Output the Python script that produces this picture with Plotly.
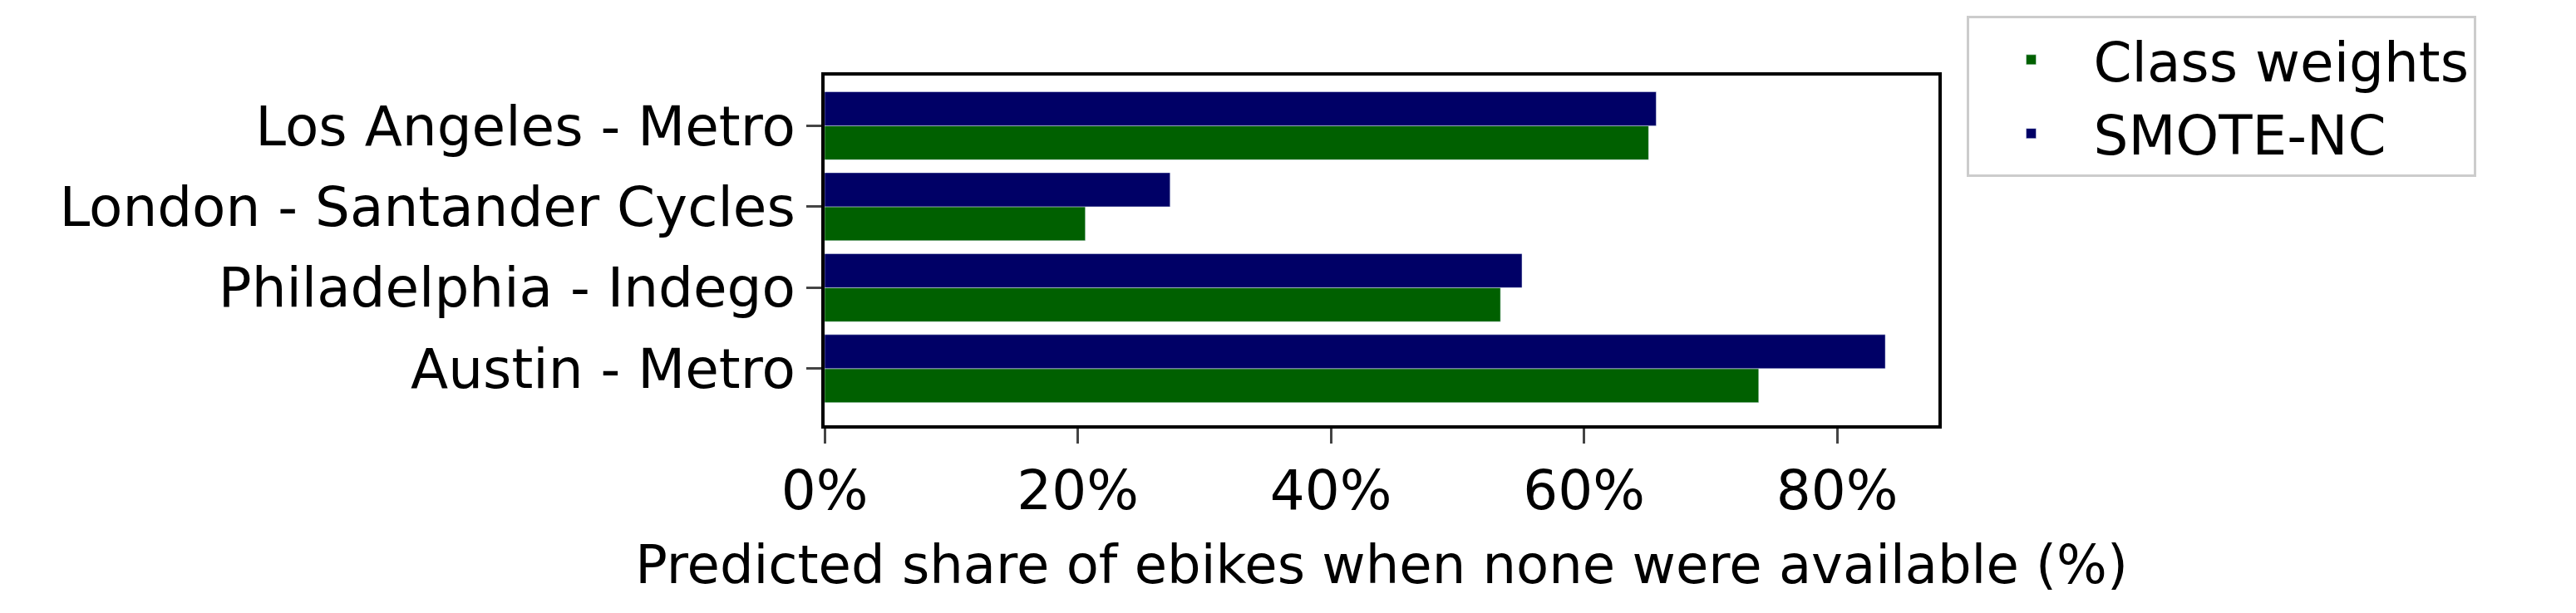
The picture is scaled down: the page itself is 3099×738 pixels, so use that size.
import plotly.graph_objects as go

cities = ["Austin - Metro", "Philadelphia - Indego", "London - Santander Cycles", "Los Angeles - Metro"]
class_weights = [73.8, 53.4, 20.6, 65.1]
smote_nc = [83.8, 55.1, 27.3, 65.7]
xticks = [0, 20, 40, 60, 80]
xticklabels = ["0%", "20%", "40%", "60%", "80%"]

fig = go.Figure()
fig.add_bar(y=cities, x=class_weights, orientation="h", name="Class weights", marker_color="#006000")
fig.add_bar(y=cities, x=smote_nc, orientation="h", name="SMOTE-NC", marker_color="#000066")

font = dict(family="DejaVu Sans", size=66, color="black")
fig.update_layout(
    width=3099, height=738, barmode="group", bargap=0.16, bargroupgap=0,
    plot_bgcolor="white", paper_bgcolor="white", font=font,
    margin=dict(l=984, r=3099 - 2324, t=79, b=738 - 504),
    legend=dict(x=1.025, y=1.17, xanchor="left", yanchor="top", bordercolor="#cccccc", borderwidth=3,
                font=dict(family="DejaVu Sans", size=66), itemwidth=140, tracegroupgap=20),
)
fig.update_xaxes(range=[0, 88], tickvals=xticks, ticktext=xticklabels, ticks="outside", ticklen=18, tickwidth=3,
                 showline=True, linecolor="black", linewidth=4, mirror=True, showgrid=False,
                 title=dict(text="Predicted share of ebikes when none were available (%)", standoff=30,
                            font=dict(family="DejaVu Sans", size=64)))
fig.update_yaxes(categoryorder="array", categoryarray=cities, range=[-0.7, 3.62], ticks="outside", ticklen=18,
                 tickwidth=3, showline=True, linecolor="black", linewidth=4, mirror=True, showgrid=False)
fig.write_html("out.html")
